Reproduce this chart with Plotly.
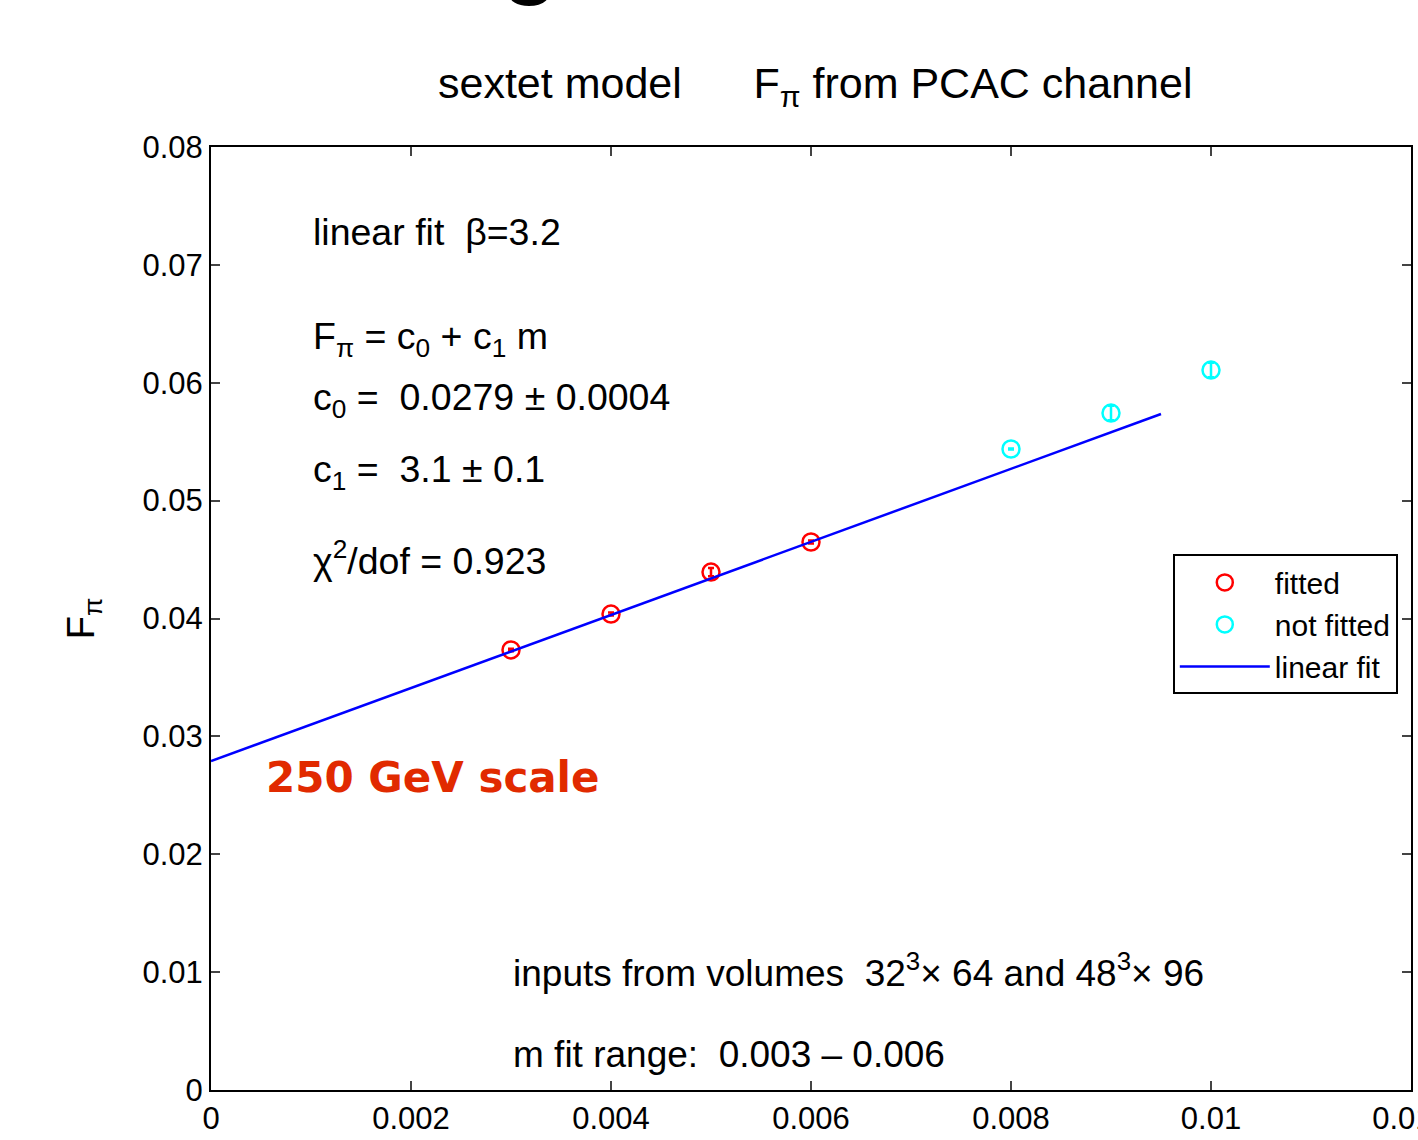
import plotly.graph_objects as go

# data
m_fitted = [0.003, 0.004, 0.005, 0.006]
f_fitted = [0.03733, 0.04038, 0.04394, 0.04649]
e_fitted = [0.00010, 0.00012, 0.00035, 0.00012]

m_notfit = [0.008, 0.009, 0.010]
f_notfit = [0.05438, 0.05743, 0.06108]
e_notfit = [0.00005, 0.00062, 0.00062]

fit_m = [0.0, 0.0095]
fit_f = [0.0279, 0.05735]

x_ticks = [0, 0.002, 0.004, 0.006, 0.008, 0.010, 0.012]
x_labels = ["0", "0.002", "0.004", "0.006", "0.008", "0.01", "0.012"]
y_ticks = [0, 0.01, 0.02, 0.03, 0.04, 0.05, 0.06, 0.07, 0.08]
y_labels = ["0", "0.01", "0.02", "0.03", "0.04", "0.05", "0.06", "0.07", "0.08"]

FONT = "Liberation Sans, Arial, Helvetica, sans-serif"

fig = go.Figure()
fig.add_trace(go.Scatter(
    x=m_fitted, y=f_fitted, mode="markers", name="fitted",
    marker=dict(symbol="circle-open", size=17, color="#ff0000", line=dict(width=2.5, color="#ff0000")),
    error_y=dict(type="data", array=e_fitted, color="#ff0000", thickness=2.5, width=3),
))
fig.add_trace(go.Scatter(
    x=m_notfit, y=f_notfit, mode="markers", name="not fitted",
    marker=dict(symbol="circle-open", size=17, color="#00ffff", line=dict(width=2.5, color="#00ffff")),
    error_y=dict(type="data", array=e_notfit, color="#00ffff", thickness=2.5, width=3),
))
fig.add_trace(go.Scatter(
    x=fit_m, y=fit_f, mode="lines", name="linear fit",
    line=dict(color="#0000ff", width=2.5),
))

axis_common = dict(
    showgrid=False, zeroline=False, showline=True, linecolor="black", linewidth=2,
    mirror="allticks", ticks="inside", ticklen=9, tickwidth=1.5, tickcolor="#444",
    tickfont=dict(family=FONT, size=31, color="black"), automargin=False,
)
fig.update_xaxes(range=[0, 0.012], tickvals=x_ticks, ticktext=x_labels,
                 ticklabeloverflow="allow", **axis_common)
fig.update_yaxes(range=[0, 0.08], tickvals=y_ticks, ticktext=y_labels,
                 title=dict(text="F<sub>π</sub>", font=dict(family=FONT, size=38, color="black"), standoff=36),
                 **axis_common)

ann = []
def txt(x, y, s, size=37.5, color="black", family=FONT):
    ann.append(dict(x=x, y=y, xref="x", yref="y", text=s, showarrow=False,
                    xanchor="left", yanchor="middle",
                    font=dict(family=family, size=size, color=color)))

txt(0.00100, 0.0728, "linear fit  β=3.2")
txt(0.00100, 0.0637, "F<sub>π</sub> = c<sub>0</sub> + c<sub>1</sub> m")
txt(0.00100, 0.0585, "c<sub>0</sub> =  0.0279 ± 0.0004")
txt(0.00100, 0.0524, "c<sub>1</sub> =  3.1 ± 0.1")
txt(0.00100, 0.0451, "χ<sup>2</sup>/dof = 0.923")
txt(0.00300, 0.0101, "inputs from volumes  32<sup>3</sup>× 64 and 48<sup>3</sup>× 96", size=37)
txt(0.00300, 0.0030, "m fit range:  0.003 – 0.006", size=37)
txt(0.00053, 0.0265, "<b>250 GeV scale</b>", size=42, color="#e12a00", family="DejaVu Sans, sans-serif")

ann.append(dict(x=0.503, y=1.065, xref="paper", yref="paper", showarrow=False,
                text="sextet model      F<sub>π</sub> from PCAC channel",
                xanchor="center", yanchor="middle",
                font=dict(family=FONT, size=43, color="black")))
ann.append(dict(x=0.266, y=1.204, xref="paper", yref="paper", showarrow=False,
                text="<b>g</b>", xanchor="center", yanchor="middle",
                font=dict(family=FONT, size=92, color="black")))

fig.update_layout(
    width=1418, height=1140,
    margin=dict(l=211, r=7, t=147, b=50),
    paper_bgcolor="white", plot_bgcolor="white",
    annotations=ann,
    showlegend=True,
    legend=dict(x=0.989, y=0.568, xanchor="right", yanchor="top",
                bordercolor="black", borderwidth=2, bgcolor="white",
                font=dict(family=FONT, size=30, color="black"),
                tracegroupgap=0, itemwidth=90),
)
fig.write_html("out.html")
